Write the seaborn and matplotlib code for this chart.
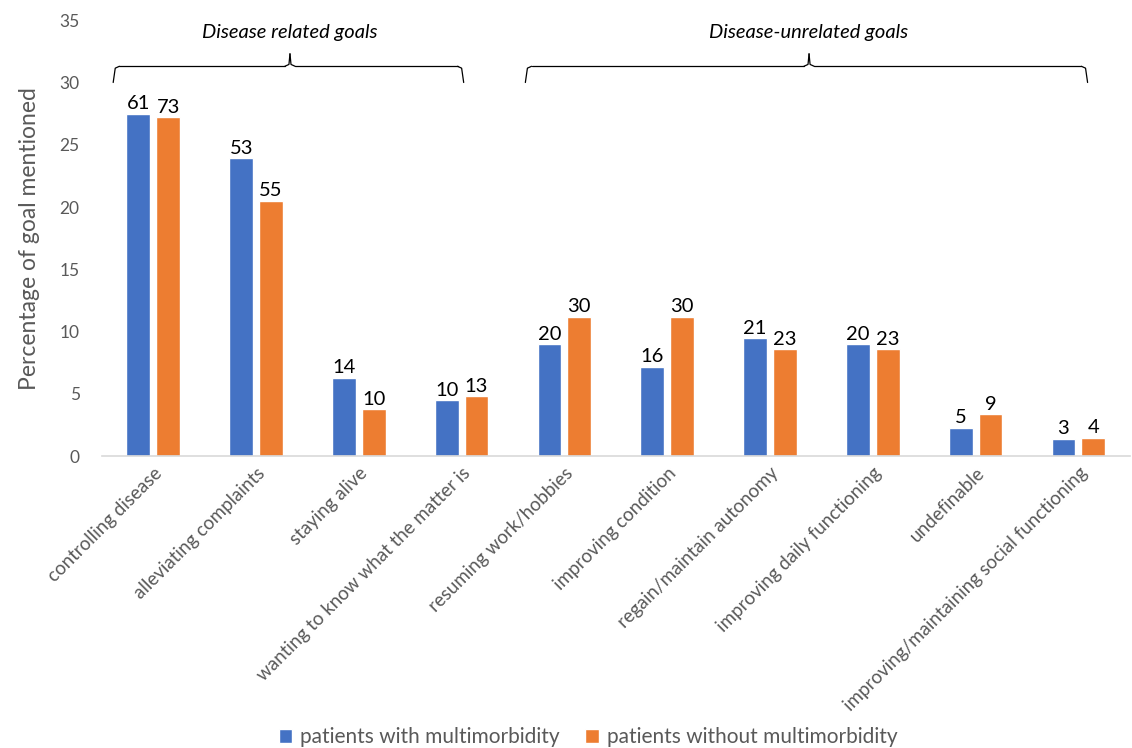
import numpy as np
import pandas as pd
import matplotlib
matplotlib.use('Agg')
import matplotlib.pyplot as plt
import seaborn as sns

# ── Data ─────────────────────────────────────────────────────
goals = ['controlling disease', 'alleviating complaints', 'staying alive',
         'wanting to know what the matter is', 'resuming work/hobbies',
         'improving condition', 'regain/maintain autonomy',
         'improving daily functioning', 'undefinable',
         'improving/maintaining social functioning']
groups = ['patients with multimorbidity', 'patients without multimorbidity']
pct_multi = [27.5, 23.9, 6.3, 4.5, 9.0, 7.2, 9.5, 9.0, 2.3, 1.4]
pct_nomulti = [27.2, 20.5, 3.8, 4.8, 11.2, 11.2, 8.6, 8.6, 3.4, 1.5]
n_multi = [61, 53, 14, 10, 20, 16, 21, 20, 5, 3]
n_nomulti = [73, 55, 10, 13, 30, 30, 23, 23, 9, 4]

BLUE = '#4472C4'
ORANGE = '#ED7D31'
GREY = '#595959'

df = pd.DataFrame({
    'goal': goals * 2,
    'group': [groups[0]] * len(goals) + [groups[1]] * len(goals),
    'pct': pct_multi + pct_nomulti,
})

sns.set_theme(style='white')
plt.rcParams['font.family'] = ['Lato', 'DejaVu Sans']

fig = plt.figure(figsize=(11.32, 7.48), dpi=100)
ax = fig.add_axes([0.090, 0.390, 0.908, 0.583])

sns.barplot(data=df, x='goal', y='pct', hue='group', order=goals,
            hue_order=groups, palette=[BLUE, ORANGE], width=0.58, gap=0.2,
            saturation=1, ax=ax, legend=True)

for cont, counts in zip(ax.containers, [n_multi, n_nomulti]):
    ax.bar_label(cont, labels=[str(c) for c in counts], padding=1,
                 fontsize=14.5, color='black')

ax.set_ylim(0, 35)
ax.set_yticks(np.arange(0, 36, 5))
ax.set_xlim(-0.5, len(goals) - 0.5)
ax.tick_params(axis='y', colors=GREY, labelsize=12.5, length=0, pad=16)
ax.tick_params(axis='x', colors=GREY, labelsize=13.5, length=0, pad=6)
plt.setp(ax.get_xticklabels(), rotation=45, ha='right', rotation_mode='anchor')
ax.set_xlabel('')
ax.set_ylabel('Percentage of goal mentioned', color=GREY, fontsize=16.5, labelpad=14)
for side in ['left', 'right', 'top']:
    ax.spines[side].set_visible(False)
ax.spines['bottom'].set_color('#d9d9d9')
ax.spines['bottom'].set_linewidth(1.2)

# ── Braces over the two goal groups ──────────────────────────
def brace(x0, x1, xm, text):
    y_low, y_mid, y_tip = 30.0, 31.3, 32.3
    kw = dict(color='black', lw=0.9, clip_on=False)
    ax.plot([x0, x0 + 0.02, x0 + 0.06], [y_low, y_mid - 0.15, y_mid], **kw)
    ax.plot([x0 + 0.06, xm - 0.05], [y_mid, y_mid], **kw)
    ax.plot([xm - 0.05, xm - 0.01, xm], [y_mid, y_mid + 0.15, y_tip], **kw)
    ax.plot([xm, xm + 0.01, xm + 0.05], [y_tip, y_mid + 0.15, y_mid], **kw)
    ax.plot([xm + 0.05, x1 - 0.06], [y_mid, y_mid], **kw)
    ax.plot([x1 - 0.06, x1 - 0.02, x1], [y_mid, y_mid - 0.15, y_low], **kw)
    ax.text(xm, 34.0, text, ha='center', va='center', fontsize=14.5,
            style='italic', color='black')

brace(-0.39, 3.02, 1.33, 'Disease related goals')
brace(3.62, 9.09, 6.38, 'Disease-unrelated goals')

leg = ax.legend(loc='lower center', bbox_to_anchor=(0.473, -0.71), ncol=2,
                frameon=False, fontsize=15, handlelength=0.65, handleheight=0.65,
                columnspacing=1.2, handletextpad=0.4)
for t in leg.get_texts():
    t.set_color(GREY)

fig.savefig('out.png', dpi=100)
